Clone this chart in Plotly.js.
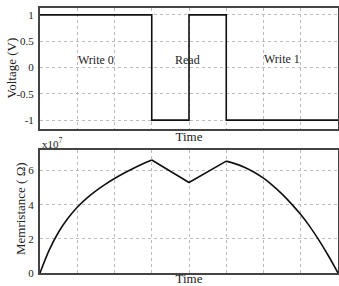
<!DOCTYPE html>
<html>
<head>
<meta charset="utf-8">
<script src="https://cdn.plot.ly/plotly-3.0.1.min.js"></script>
<style>
html,body{margin:0;padding:0;background:#fff;}
#chart{width:339px;height:286px;}
</style>
</head>
<body>
<div id="chart"></div>
<script>
// Voltage pulse (step, hv shape)
const voltTime = [0, 3, 4, 5, 8];
const voltValue = [1, -1, 1, -1, -1];

// Memristance (x10^7 Ohm)
const memRiseTime = [0, 0.25, 0.5, 0.75, 1, 1.25, 1.5, 1.75, 2, 2.25, 2.5, 2.75, 3];
const memRiseValue = [0, 1.35, 2.4, 3.2, 3.85, 4.37, 4.81, 5.19, 5.53, 5.84, 6.12, 6.38, 6.62];
const memReadTime = [3, 4, 5];
const memReadValue = [6.62, 5.3, 6.55];
const memFallTime = [5, 5.25, 5.5, 5.75, 6, 6.25, 6.5, 6.75, 7, 7.25, 7.5, 7.75, 8];
const memFallValue = [6.55, 6.39, 6.18, 5.9, 5.55, 5.12, 4.62, 4.05, 3.42, 2.7, 1.88, 0.98, 0];

const phaseLabels = ["Write 0", "Read", "Write 1"];
const phaseX = [1.5, 3.95, 6.5];
const phaseY = [0.14, 0.14, 0.16];

const voltTicks = [-1, -0.5, 0, 0.5, 1];
const voltTickText = ["-1", "-0.5", "0", "0.5", "1"];
const memTicks = [0, 2, 4, 6];
const memTickText = ["0", "2", "4", "6"];

const FONT = "Liberation Serif, Times New Roman, serif";

const lineStyle = {color: '#111', width: 1.6};
const traces = [
  {x: voltTime, y: voltValue, type: 'scatter', mode: 'lines', line: Object.assign({shape: 'hv'}, lineStyle), xaxis: 'x', yaxis: 'y'},
  {x: memRiseTime, y: memRiseValue, type: 'scatter', mode: 'lines', line: Object.assign({shape: 'spline', smoothing: 1}, lineStyle), xaxis: 'x2', yaxis: 'y2'},
  {x: memReadTime, y: memReadValue, type: 'scatter', mode: 'lines', line: lineStyle, xaxis: 'x2', yaxis: 'y2'},
  {x: memFallTime, y: memFallValue, type: 'scatter', mode: 'lines', line: Object.assign({shape: 'spline', smoothing: 1}, lineStyle), xaxis: 'x2', yaxis: 'y2'}
];

const axisCommon = {
  showline: true, mirror: true, linecolor: '#444', linewidth: 2,
  showgrid: true, gridcolor: '#bbb', griddash: 'dot', gridwidth: 1,
  zeroline: false, ticks: '', ticklabelstandoff: 2, tickfont: {family: FONT, size: 11, color: '#222'}
};

const annotations = phaseLabels.map((t, i) => ({
  x: phaseX[i], y: phaseY[i], xref: 'x', yref: 'y', text: t, showarrow: false,
  font: {family: FONT, size: 12, color: '#222'}
}));
annotations.push({
  x: 0, y: 1, xref: 'x2 domain', yref: 'y2 domain', xanchor: 'left', yanchor: 'bottom', yshift: -2,
  text: 'x10<sup>7</sup>', showarrow: false, font: {family: FONT, size: 11, color: '#222'}
});
const titleFont = {family: FONT, size: 13, color: '#222'};
// y-axis titles as rotated annotations (placed close to tick labels like the reference)
annotations.push({
  x: -28 / 298, y: 0.5, xref: 'paper', yref: 'y domain', textangle: -90, xanchor: 'center', yanchor: 'middle',
  text: 'Voltage (V)', showarrow: false, font: {family: FONT, size: 13, color: '#222'}
});
annotations.push({
  x: -20 / 298, y: 0.52, xref: 'paper', yref: 'y2 domain', textangle: -90, xanchor: 'center', yanchor: 'middle',
  text: 'Memristance ( \u03A9)', showarrow: false, font: {family: FONT, size: 13, color: '#222'}
});

const layout = {
  width: 339, height: 286,
  margin: {l: 40, r: 1, t: 8, b: 13},
  paper_bgcolor: '#fff', plot_bgcolor: '#fff',
  showlegend: false,
  font: {family: FONT},
  xaxis: Object.assign({}, axisCommon, {domain: [0, 1], range: [0, 8], dtick: 1, tick0: 0, showticklabels: false, anchor: 'y',
    title: {text: 'Time', font: titleFont, standoff: 2}}),
  yaxis: Object.assign({}, axisCommon, {domain: [0.543, 1], range: [-1.17, 1.13], tickvals: voltTicks, ticktext: voltTickText, anchor: 'x'}),
  xaxis2: Object.assign({}, axisCommon, {domain: [0, 1], range: [0, 8], dtick: 1, tick0: 0, showticklabels: false, anchor: 'y2',
    title: {text: 'Time', font: titleFont, standoff: 2}}),
  yaxis2: Object.assign({}, axisCommon, {domain: [0, 0.464], range: [0, 7.2], tickvals: memTicks, ticktext: memTickText, anchor: 'x2'}),
  annotations: annotations
};

Plotly.newPlot('chart', traces, layout, {staticPlot: true, displayModeBar: false});
</script>
</body>
</html>
